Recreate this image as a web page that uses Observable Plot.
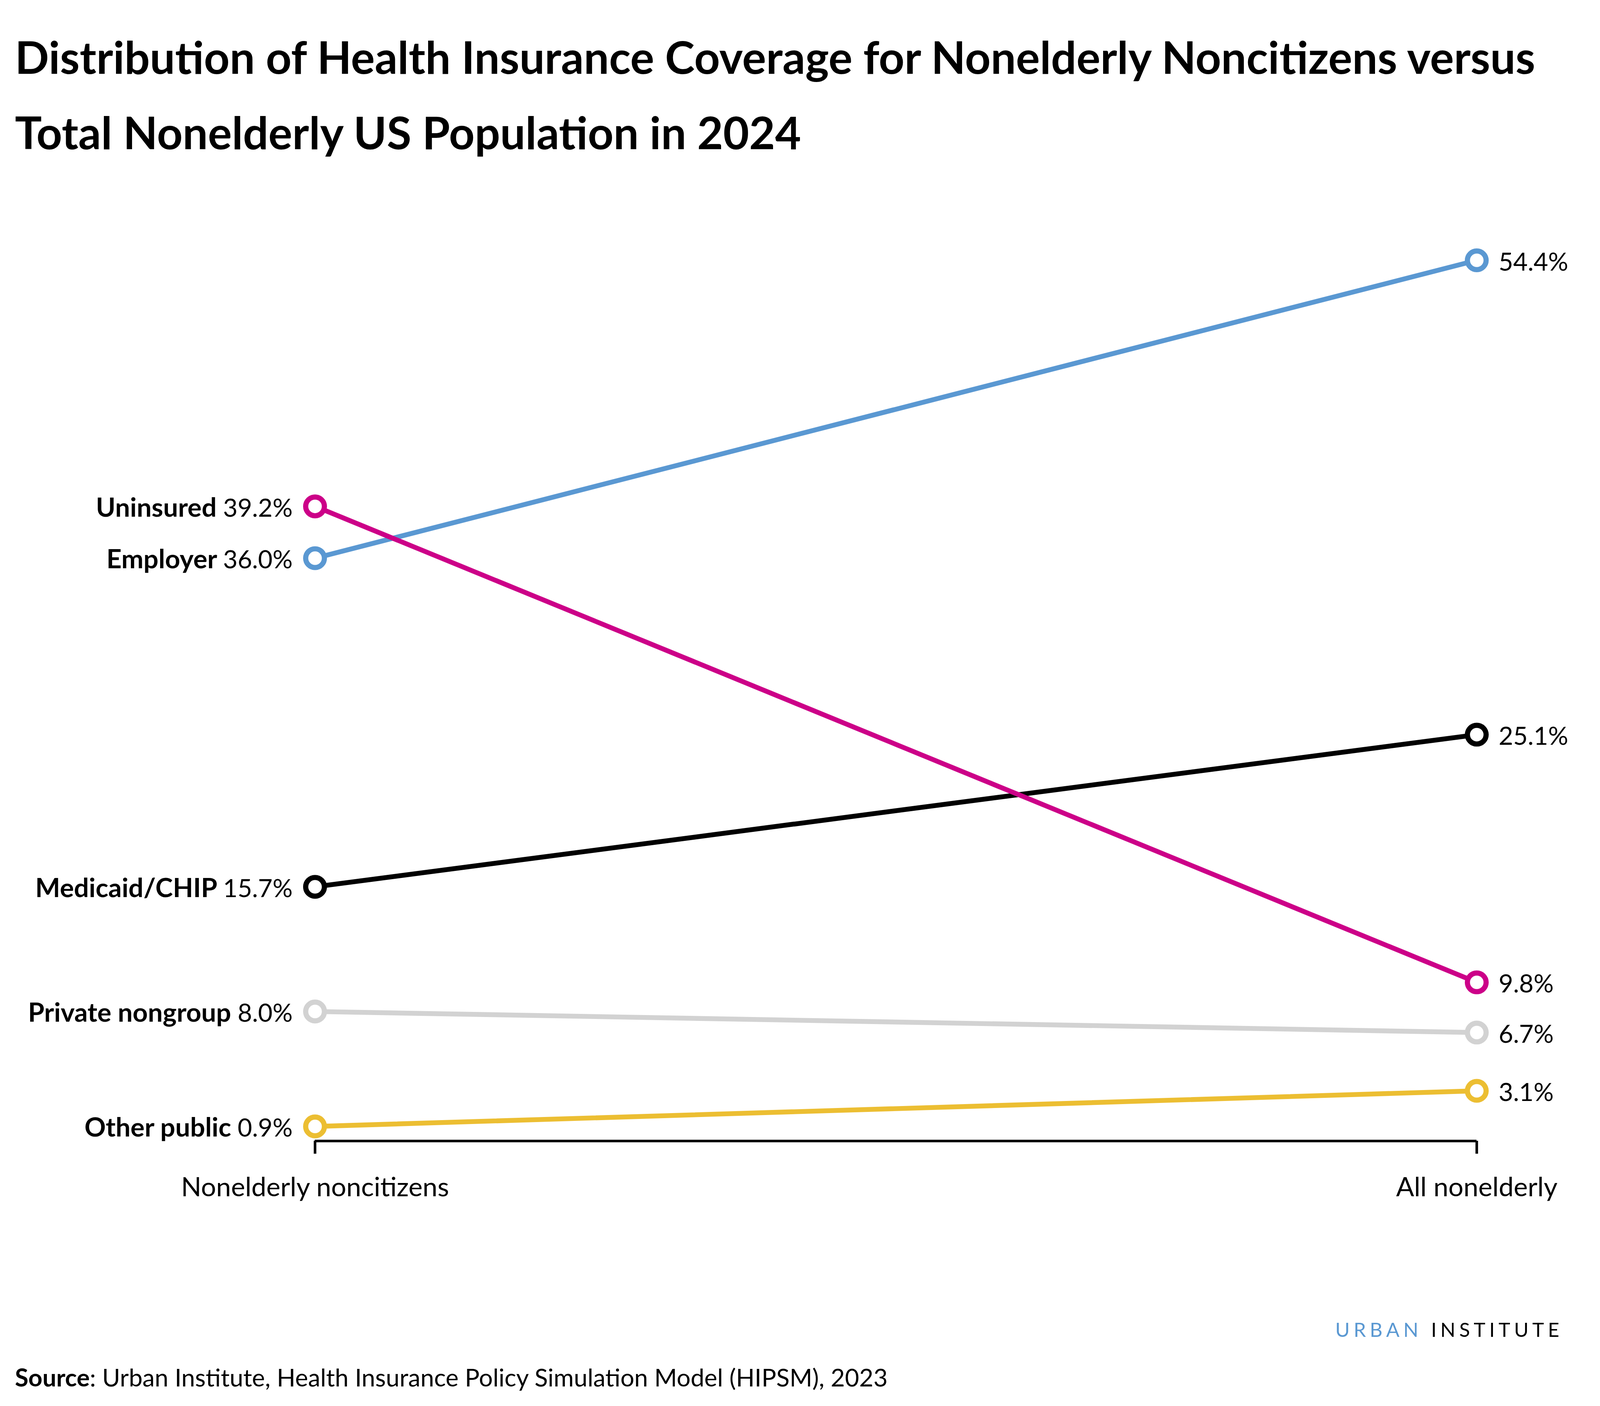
<!DOCTYPE html>
<html>
<head>
<meta charset="utf-8">
<script src="https://cdn.jsdelivr.net/npm/d3@7"></script>
<script src="https://cdn.jsdelivr.net/npm/@observablehq/plot@0.6"></script>
<style>
  html, body { margin: 0; padding: 0; background: #fff; overflow: hidden; }
  body { position: relative; font-family: Lato, "Open Sans", sans-serif; color: #000; }
  .t { position: absolute; white-space: nowrap; line-height: 1.2; }
  #chart { position: absolute; left: 0; }
  .u { color: #5a98d2; }
</style>
</head>
<body>
<div id="title1" class="t" style="font-weight:700">Distribution of Health Insurance Coverage for Nonelderly Noncitizens versus</div>
<div id="title2" class="t" style="font-weight:700">Total Nonelderly US Population in 2024</div>
<div id="chart"></div>
<div id="brand" class="t"><span class="u">URBAN</span> INSTITUTE</div>
<div id="source" class="t"><b>Source</b>: Urban Institute, Health Insurance Policy Simulation Model (HIPSM), 2023</div>
<script>
// ---- data ----
const groups = ["Nonelderly noncitizens", "All nonelderly"];
const categories = ["Private nongroup", "Other public", "Medicaid/CHIP", "Employer", "Uninsured"];
const noncitizenValues = [8.0, 0.9, 15.7, 36.0, 39.2];
const allNonelderlyValues = [6.7, 3.1, 25.1, 54.4, 9.8];
const colors = ["#d2d2d2", "#ecbe32", "#000000", "#5a98d2", "#cc0088"];

const rows = [];
categories.forEach((c, i) => {
  rows.push({category: c, group: groups[0], value: noncitizenValues[i]});
  rows.push({category: c, group: groups[1], value: allNonelderlyValues[i]});
});
const fmt = v => v.toFixed(1) + "%";

// ---- layout (designed on a 6000 x 3600 canvas, mapped to the actual window) ----
const W = window.innerWidth || 6000, H = window.innerHeight || 3600;
const sx = W / 6000, sy = H / 3600, sm = Math.sqrt(sx * sy);
document.body.style.width = W + "px";
document.body.style.height = H + "px";

// place a single-line text block so that its baseline sits at y (line-height 1.2, Lato ascent 0.987em)
function place(id, {left, right, baseline, size, spacing}) {
  const el = document.getElementById(id);
  const fs = size * sx;
  el.style.fontSize = fs + "px";
  el.style.top = (baseline * sy - 0.987 * fs) + "px";
  if (left != null) el.style.left = (left * sx) + "px";
  if (right != null) el.style.right = (right * sx) + "px";
  if (spacing != null) el.style.letterSpacing = (spacing * sx) + "px";
}
place("title1", {left: 56, baseline: 189, size: 168});
place("title2", {left: 56, baseline: 382, size: 168});
place("brand", {right: 6000 - 5847 - 14.3, baseline: 3424, size: 74, spacing: 14.3});
place("source", {left: 56, baseline: 3550, size: 92});

const svgTop = 440, svgH = 2740;
document.getElementById("chart").style.top = (svgTop * sy) + "px";

const chart = Plot.plot({
  width: W,
  height: svgH * sy,
  marginLeft: 1180 * sx,
  marginRight: 463 * sx,
  marginTop: 226 * sy,
  marginBottom: 259 * sy,
  x: {type: "point", domain: groups, padding: 0, label: null},
  y: {domain: [0, 54.4], axis: null},
  color: {domain: categories, range: colors},
  style: {fontFamily: "Lato, sans-serif", color: "#000", background: "#fff", overflow: "visible"},
  marks: [
    Plot.ruleY([0], {stroke: "#000", strokeWidth: 8 * sm}),
    Plot.axisX({tickSize: 33 * sy, tickPadding: 60 * sy, stroke: "#000", strokeWidth: 8 * sm, fontSize: 100 * sx, label: null}),
    Plot.line(rows, {x: "group", y: "value", z: "category", stroke: "category", strokeWidth: 15 * sm}),
    Plot.dot(rows, {x: "group", y: "value", stroke: "category", r: 29 * sm, strokeWidth: 16 * sm, fill: "#fff"}),
    Plot.text(rows.filter(d => d.group === groups[0]), {
      x: "group", y: "value", text: d => `${d.category} ${fmt(d.value)}`,
      textAnchor: "end", dx: -84 * sx, dy: 8 * sx, fontSize: 94 * sx, fill: "#000"
    }),
    Plot.text(rows.filter(d => d.group === groups[1]), {
      x: "group", y: "value", text: d => fmt(d.value),
      textAnchor: "start", dx: 82 * sx, dy: 8 * sx, fontSize: 94 * sx, fill: "#000"
    })
  ]
});

// split left labels into a bold category name and a regular value
const ns = "http://www.w3.org/2000/svg";
chart.querySelectorAll("text").forEach(t => {
  const m = t.textContent.match(/^(.+) (\d+\.\d%)$/);
  if (!m || !categories.includes(m[1])) return;
  t.textContent = "";
  const a = document.createElementNS(ns, "tspan");
  a.setAttribute("font-weight", "700");
  a.setAttribute("font-size", String(99 * sx));
  a.textContent = m[1] + " ";
  const b = document.createElementNS(ns, "tspan");
  b.textContent = m[2];
  t.appendChild(a);
  t.appendChild(b);
});

document.getElementById("chart").appendChild(chart);
</script>
</body>
</html>
